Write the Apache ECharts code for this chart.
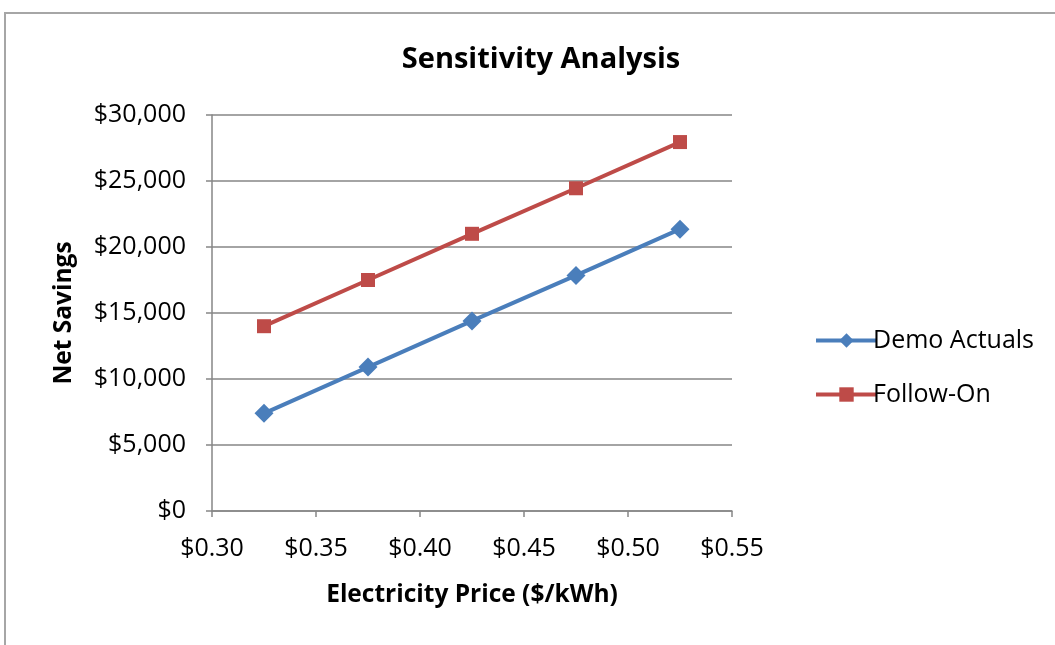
<!DOCTYPE html>
<html>
<head>
<meta charset="utf-8">
<script src="https://cdn.jsdelivr.net/npm/echarts@6/dist/echarts.min.js"></script>
<style>
html,body{margin:0;padding:0;background:#fff;}
#c{width:1055px;height:645px;}
</style>
</head>
<body>
<div id="c"></div>
<script>
const prices = [0.325, 0.375, 0.425, 0.475, 0.525];
const demoActuals = [7400, 10900, 14400, 17850, 21350];
const followOn = [14000, 17500, 21000, 24450, 27950];
const seriesNames = ['Demo Actuals', 'Follow-On'];

const FONT = '"Open Sans", "Noto Sans", sans-serif';
const chart = echarts.init(document.getElementById('c'), null, {renderer: 'canvas'});
chart.setOption({
  animation: false,
  backgroundColor: '#fff',
  graphic: [
    {type: 'polyline', shape: {points: [[5, 645], [5, 13], [1055, 13]]},
     style: {stroke: '#a6a6a6', lineWidth: 2, fill: null}}
  ],
  title: {
    text: 'Sensitivity Analysis',
    left: 536, top: 40, textAlign: 'center',
    textStyle: {fontFamily: FONT, fontSize: 29, fontWeight: 'bold', color: '#000'}
  },
  legend: {
    orient: 'vertical',
    left: 809, top: 323,
    itemWidth: 61, itemHeight: 18, itemGap: 29,
    lineStyle: {width: 4},
    textStyle: {fontFamily: FONT, fontSize: 25, color: '#000', padding: [0, 0, 0, -9]},
    data: seriesNames
  },
  grid: {left: 212, right: 323, top: 115, bottom: 134},
  xAxis: {
    type: 'value', min: 0.30, max: 0.55, interval: 0.05,
    name: 'Electricity Price ($/kWh)', nameLocation: 'middle', nameGap: 72,
    nameTextStyle: {fontFamily: FONT, fontSize: 24.5, fontWeight: 'bold', color: '#000'},
    axisLine: {show: true, lineStyle: {color: '#868686', width: 1.5}},
    axisTick: {show: true, length: 6, lineStyle: {color: '#868686', width: 1.5}},
    splitLine: {show: false},
    axisLabel: {fontFamily: FONT, fontSize: 25, color: '#000', margin: 25,
      formatter: v => '$' + v.toFixed(2)}
  },
  yAxis: {
    type: 'value', min: 0, max: 30000, interval: 5000,
    name: 'Net Savings', nameLocation: 'middle', nameGap: 135, nameRotate: 90,
    nameTextStyle: {fontFamily: FONT, fontSize: 24.5, fontWeight: 'bold', color: '#000'},
    axisLine: {show: true, lineStyle: {color: '#868686', width: 1.5}},
    axisTick: {show: true, length: 6, lineStyle: {color: '#868686', width: 1.5}},
    splitLine: {show: true, lineStyle: {color: '#868686', width: 1.5}},
    axisLabel: {fontFamily: FONT, fontSize: 25, color: '#000', margin: 26,
      formatter: v => '$' + v.toLocaleString('en-US')}
  },
  series: [
    {name: seriesNames[0], type: 'line', data: prices.map((p, i) => [p, demoActuals[i]]),
     symbol: 'diamond', symbolSize: 19,
     lineStyle: {color: '#4a7ebb', width: 4}, itemStyle: {color: '#4a7ebb'}},
    {name: seriesNames[1], type: 'line', data: prices.map((p, i) => [p, followOn[i]]),
     symbol: 'rect', symbolSize: 14,
     lineStyle: {color: '#be4b48', width: 4}, itemStyle: {color: '#be4b48'}}
  ]
});
</script>
</body>
</html>
